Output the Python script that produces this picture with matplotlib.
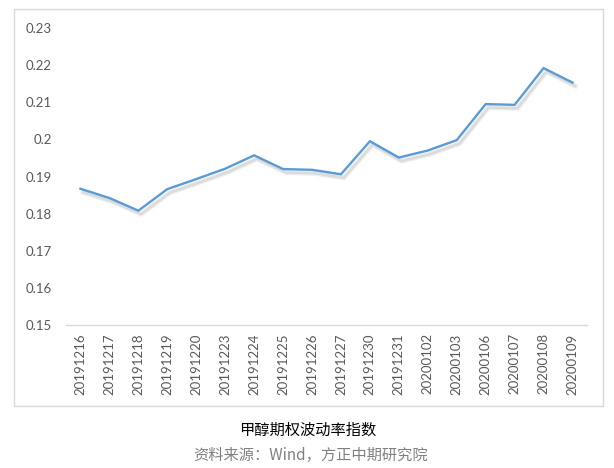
import matplotlib
matplotlib.use('Agg')
import matplotlib.pyplot as plt
import matplotlib.patches as patches
import matplotlib.patheffects as pe

plt.rcParams['font.family'] = ['Lato', 'Noto Sans CJK SC', 'DejaVu Sans']

# Data
dates = ['20191216', '20191217', '20191218', '20191219', '20191220', '20191223',
         '20191224', '20191225', '20191226', '20191227', '20191230', '20191231',
         '20200102', '20200103', '20200106', '20200107', '20200108', '20200109']
vol_index = [0.1867, 0.1842, 0.1808, 0.1866, 0.1893, 0.1921,
             0.1957, 0.1920, 0.1918, 0.1906, 0.1995, 0.1951,
             0.1970, 0.1998, 0.2095, 0.2093, 0.2192, 0.2153]
y_ticks = [0.15, 0.16, 0.17, 0.18, 0.19, 0.20, 0.21, 0.22, 0.23]
y_tick_labels = ['0.15', '0.16', '0.17', '0.18', '0.19', '0.2', '0.21', '0.22', '0.23']

W, H = 614, 468
fig = plt.figure(figsize=(W / 100, H / 100), dpi=100)

# outer chart frame (Excel style)
fig.patches.append(patches.Rectangle((14 / W, 1 - 406 / H), (603 - 14) / W, (406 - 9) / H,
                                     transform=fig.transFigure, fill=False,
                                     edgecolor='#D9D9D9', linewidth=1.0))

ax = fig.add_axes([66 / W, 1 - 325 / H, (587 - 66) / W, (325 - 28) / H])

x = list(range(len(dates)))
# soft drop shadow under the line
ax.plot(x, vol_index, color='#5B9BD5', linewidth=1.7, solid_joinstyle='miter',
        path_effects=[pe.SimpleLineShadow(offset=(2, -2.5), shadow_color='#999999', alpha=0.18,
                                          linewidth=3.5),
                      pe.SimpleLineShadow(offset=(2, -2.5), shadow_color='#999999', alpha=0.2),
                      pe.Normal()])

ax.set_xlim(-0.5, len(dates) - 0.5)
ax.set_ylim(0.15, 0.23)
ax.set_yticks(y_ticks)
ax.set_yticklabels(y_tick_labels)
ax.set_xticks(x)
ax.set_xticklabels(dates, rotation=90)

for s in ['top', 'right', 'left']:
    ax.spines[s].set_visible(False)
ax.spines['bottom'].set_color('#D9D9D9')
ax.spines['bottom'].set_linewidth(1.0)

ax.tick_params(axis='y', length=0, pad=10, labelsize=9.5, labelcolor='#595959')
ax.tick_params(axis='x', length=0, pad=6, labelsize=9.5, labelcolor='#595959')

fig.text(308 / W, 1 - 430 / H, '甲醇期权波动率指数', ha='center', va='center',
         fontsize=11, color='black', family=['Noto Sans CJK SC', 'DejaVu Sans'])
fig.text(311 / W, 1 - 455 / H, '资料来源：Wind，方正中期研究院', ha='center', va='center',
         fontsize=11, color='#808080', family=['Noto Sans CJK SC', 'DejaVu Sans'])

fig.savefig('out.png', dpi=100)
